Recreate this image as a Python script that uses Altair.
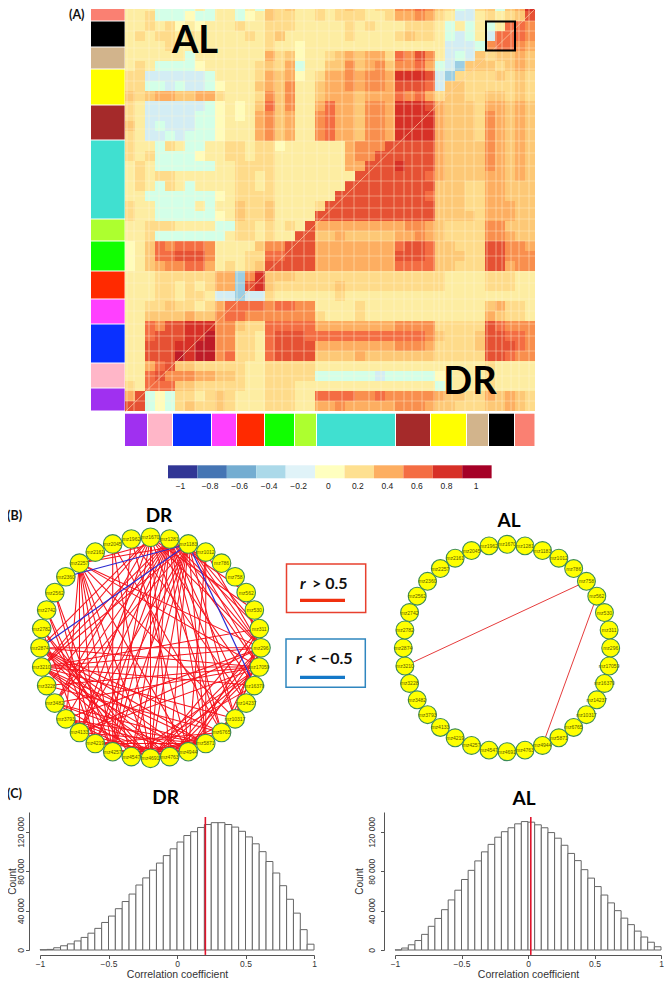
import math
import altair as alt
import pandas as pd

# ---------- (A) correlation matrix: one character per 10-unit cell
LEVELS = {'a': -0.6, 'b': -0.45, 'c': -0.25, 'd': -0.1, '0': 0.02, '1': 0.12, '2': 0.22, '3': 0.3,
          '4': 0.4, '5': 0.5, '6': 0.6, '7': 0.7, '8': 0.8, '9': 0.9}
MATRIX = [
    "11 1dd dd1d 11 d1d 323 11 21232122 5565 32d c2 3d3 48",
    "11 2dd d0dd 11 d01 322 11 21222112 4454 21c c1 212 37",
    "11 212 0101 11 211 222 11 11121211 1222 1d1 d1 d16 65",
    "12 122 1211 11 121 231 11 11121111 2322 1dc d1 c66 65",
    "11 112 1111 11 111 211 01 11111111 1111 1cc cd 566 54",
    "11 111 1d11 11 111 423 01 12343442 6575 1cd c3 233 43",
    "12 1dd dd01 11 112 324 d1 13353453 5564 dcb 33 323 43",
    "22 ccc cccd 11 112 434 01 24454554 8887 cb2 22 232 32",
    "22 ddc dccd 01 113 435 11 34454554 7776 c33 22 222 32",
    "32 344 3344 21 112 535 11 34443444 6564 233 22 332 32",
    "21 ccc cccd 01 013 635 11 46443554 8887 433 32 443 43",
    "21 ccc ccdd 01 014 534 11 56443554 8888 433 32 543 43",
    "31 cdc ccdd 01 114 534 11 56443554 8888 433 32 543 43",
    "21 ccd cddd 01 114 534 11 56443554 8888 433 32 543 43",
    "21 1d2 1dd1 12 212 201 11 11145557 7777 433 33 543 43",
    "21 2dd dd01 12 212 211 11 11145577 7777 433 33 543 43",
    "12 1dd dddd 11 222 211 11 11144777 8777 433 33 543 43",
    "12 122 1111 11 221 211 11 11117777 7776 433 33 443 43",
    "12 1d2 1d11 11 221 211 11 11177777 7777 333 22 443 33",
    "11 ddd dddd 01 222 211 11 11777777 7776 333 22 443 33",
    "21 1dd dd1d 11 322 311 11 27777777 7777 333 22 444 33",
    "21 1dd dddd 01 322 311 11 77777777 7777 333 32 444 33",
    "11 222 1111 dd 221 212 17 44444444 4554 322 22 553 33",
    "11 2dd dddd d1 221 211 77 33433333 4454 322 22 554 33",
    "01 365 6665 11 113 557 77 44444444 6776 332 22 775 54",
    "01 366 7775 11 122 667 77 44444444 7776 333 22 775 55",
    "01 345 5664 12 123 777 77 44444444 6666 332 22 774 55",
    "11 122 2222 44 b58 333 22 22222222 2222 211 11 222 11",
    "11 122 1212 44 b78 322 22 22322222 2222 211 11 222 11",
    "11 122 1221 cc bcc 211 11 11211111 1111 111 11 111 11",
    "11 223 2212 46 666 566 55 11112111 1111 111 11 342 21",
    "11 333 3433 56 655 555 55 21112111 1111 111 11 432 21",
    "11 657 7888 55 322 666 66 44444444 5555 222 22 765 55",
    "11 677 7889 55 221 677 76 66666666 6665 322 23 776 65",
    "11 777 8899 55 221 677 77 44444444 5554 222 23 777 65",
    "11 777 9899 56 221 677 77 33334333 3333 222 22 776 55",
    "11 467 3322 22 211 222 22 11111111 1111 111 11 211 11",
    "11 675 5544 33 211 222 22 ddddddcd dddd 011 11 211 11",
    "21 666 3322 22 211 222 11 11111111 1111 d11 11 211 11",
    "47 d0d 2212 32 111 222 11 66665565 5555 433 22 434 32",
    "77 d0d 2322 32 111 222 11 44544444 5554 332 22 334 32",
]
# low-correlation metabolites: pale lines that cross the matrix
PALE_COLUMNS = [128, 135, 150, 160, 173, 185, 196, 205, 217, 225, 238, 250, 265, 275, 283, 293, 305, 318,
                330, 343, 355, 370, 382, 395, 405, 413, 423, 435, 440, 445, 453, 466, 475, 488, 497, 503,
                512, 520, 530]
PALE_ROWS = [20, 30, 47, 58, 68, 80, 92, 103, 115, 128, 140, 152, 165, 180, 195, 207, 218, 230, 240, 255,
             271, 282, 298, 310, 323, 335, 350, 362, 375, 388, 400]
MODULES = ["purple", "pink", "blue", "magenta", "red", "green", "greenyellow", "turquoise",
           "brown", "yellow", "tan", "black", "salmon"]
MODULE_SIZE = [23, 25, 39, 25, 28, 30, 22, 79, 35, 36, 22, 26, 20.5]
MODULE_HEX = ["#a030f0", "#ffb6c8", "#0a30ff", "#ff40ff", "#ff2a00", "#10ff00", "#adff2f", "#40e0d0",
              "#a52a2a", "#ffff00", "#d2b48c", "#000000", "#fa8072"]
BAR_VALUES = [-1, -0.8, -0.6, -0.4, -0.2, 0, 0.2, 0.4, 0.6, 0.8, 1]
BAR_HEX = ["#313695", "#4575b4", "#74add1", "#abd9e9", "#e0f3f8", "#ffffbf", "#fee090", "#fdae61",
           "#f46d43", "#d73027", "#a50026"]
BAR_LABELS = ["−1", "−0.8", "−0.6", "−0.4", "−0.2", "0", "0.2", "0.4", "0.6", "0.8", "1"]

# ---------- (B) networks
NODES = ["mz1670", "mz1281", "mz1183", "mz1012", "mz786", "mz758", "mz562", "mz530", "mz311", "mz296",
         "mz17059", "mz16370", "mz14237", "mz10317", "mz6765", "mz5871", "mz4944", "mz4763", "mz4691",
         "mz4547", "mz4257", "mz4219", "mz4133", "mz3793", "mz3482", "mz3228", "mz3210", "mz2874",
         "mz2782", "mz2742", "mz2562", "mz2360", "mz2257", "mz2161", "mz2045", "mz1962"]
DR_POS = {
    0: [7, 9, 11, 14, 17, 18, 20, 22, 24, 26, 27],
    1: [6, 8, 9, 10, 12, 13, 14, 15, 16, 18, 19, 20, 21, 22, 23, 24, 25, 26],
    2: [8, 9, 10, 13, 15, 17, 18, 19, 20, 21, 22, 24, 26],
    3: [9, 15, 16],
    32: [1, 2, 9, 10, 13, 16, 18, 19, 20, 21, 22, 23],
    34: [14, 18, 20],
    35: [12, 16, 20],
    30: [20, 21],
    29: [20, 21],
    28: [18, 19, 22],
    27: [9, 10, 14, 15, 16, 17, 18],
    26: [8, 9, 10, 11, 13, 15, 16, 17, 18],
    25: [10, 14],
    24: [10, 15, 16, 18],
    23: [9, 15, 16, 17, 18],
    22: [9, 10, 15, 17],
    21: [14, 15, 16],
    20: [15, 16],
    19: [10, 11, 14],
    18: [8, 9, 10, 13],
    17: [9, 10],
    16: [8, 9],
    14: [9, 10],
    13: [8, 9],
    6: [10],
}
DR_NEG = [(31, 2), (27, 2), (2, 11)]
AL_POS = [(33, 0), (5, 26), (6, 16)]

# ---------- (C) histograms, 40 bins of width 0.05 from -1 to 1
DR_COUNTS = [300, 600, 2300, 4300, 6200, 9200, 12800, 17100, 22000, 28000, 34500, 42000, 49300, 56900,
             66100, 73300, 81200, 88400, 96000, 102900, 109800, 116400, 120300, 124600, 127600, 129500,
             129500, 127600, 125000, 120700, 115000, 108000, 100000, 90000, 78300, 65400, 51600, 37500,
             20700, 5900]
AL_COUNTS = [100, 2000, 5300, 9600, 15900, 24100, 32100, 41000, 50900, 60800, 71700, 81000, 90600, 99800,
             107400, 114700, 120300, 124300, 128300, 130600, 130000, 127300, 124300, 119400, 113700,
             106500, 98200, 90900, 81700, 73100, 64500, 55900, 47900, 40000, 32400, 25800, 19200, 13200,
             7900, 3300]
DR_MEAN = 0.207
AL_MEAN = 0.021

SANS = "Liberation Sans"
HEAD = "Lato"

sx = alt.Scale(domain=[8, 664], clamp=True, nice=False, zero=False)
sy = alt.Scale(domain=[8, 811], clamp=True, nice=False, zero=False, reverse=True)
heat_scale = alt.Scale(domain=BAR_VALUES, range=BAR_HEX, clamp=True)


def X(f):
    return alt.X(f"{f}:Q", scale=sx, axis=None, title=None)


def Y(f):
    return alt.Y(f"{f}:Q", scale=sy, axis=None, title=None)


def label(rows, **mark):
    df = pd.DataFrame(rows, columns=["t", "x", "y"])
    return alt.Chart(df).mark_text(baseline="middle", **mark).encode(x=X("x"), y=Y("y"), text="t:N")


# ---- heat map cells
MAT_X, MAT_Y, CELL = 126, 0, 10
MAT_END_X, MAT_END_Y = 536, 411
cells = []
for i, row in enumerate(MATRIX):
    for j, ch in enumerate(row.replace(" ", "")):
        cells.append({"x": MAT_X + j * CELL, "x2": MAT_X + (j + 1) * CELL,
                      "y": MAT_Y + i * CELL, "y2": MAT_Y + (i + 1) * CELL, "r": LEVELS[ch]})
heat = alt.Chart(pd.DataFrame(cells)).mark_rect(strokeWidth=0).encode(
    x=X("x"), x2="x2:Q", y=Y("y"), y2="y2:Q",
    color=alt.Color("r:Q", scale=heat_scale, legend=None))

pale_df = pd.DataFrame(
    [{"x": c, "x2": c, "y": MAT_Y, "y2": MAT_END_Y} for c in PALE_COLUMNS] +
    [{"x": MAT_X, "x2": MAT_END_X, "y": r, "y2": r} for r in PALE_ROWS])
pale = alt.Chart(pale_df).mark_rule(color="#fff8d8", strokeWidth=1.2, opacity=0.4).encode(
    x=X("x"), x2="x2:Q", y=Y("y"), y2="y2:Q")
diagonal = alt.Chart(pd.DataFrame([{"x": MAT_X, "y": MAT_END_Y, "x2": MAT_END_X, "y2": MAT_Y}])).mark_rule(
    color="#fbd2a8", strokeWidth=1, opacity=0.7).encode(x=X("x"), x2="x2:Q", y=Y("y"), y2="y2:Q")

# ---- module strips
pos = MAT_X
bottom_rows = []
for m, s, c in zip(MODULES, MODULE_SIZE, MODULE_HEX):
    bottom_rows.append({"x": pos, "x2": pos + s - 1, "y": 412.7, "y2": 445, "c": c})
    pos += s
pos = MAT_Y
left_rows = []
for m, s, c in reversed(list(zip(MODULES, MODULE_SIZE, MODULE_HEX))):
    left_rows.append({"x": 92, "x2": 125.6, "y": pos, "y2": pos + s - 1, "c": c})
    pos += s
strips = alt.Chart(pd.DataFrame(bottom_rows + left_rows)).mark_rect(strokeWidth=0).encode(
    x=X("x"), x2="x2:Q", y=Y("y"), y2="y2:Q", color=alt.Color("c:N", scale=None, legend=None))

box = alt.Chart(pd.DataFrame([{"x": 487, "x2": 516, "y": 20.5, "y2": 49.5}])).mark_rect(
    fillOpacity=0, stroke="#000000", strokeWidth=2).encode(x=X("x"), x2="x2:Q", y=Y("y"), y2="y2:Q")

# ---- colour bar
bar_df = pd.DataFrame([{"x": 169 + k * 29.42, "x2": 169 + (k + 1) * 29.42, "y": 464.3, "y2": 477.3, "r": v}
                       for k, v in enumerate(BAR_VALUES)])
colorbar = alt.Chart(bar_df).mark_rect(strokeWidth=0).encode(
    x=X("x"), x2="x2:Q", y=Y("y"), y2="y2:Q", color=alt.Color("r:Q", scale=heat_scale, legend=None))
bar_labels = label([(t, 181.5 + k * 29.55, 484.5) for k, t in enumerate(BAR_LABELS)],
                   font=SANS, fontSize=8.5, color="#222222", align="center")


# ---- networks
def ring(cx, cy, rad):
    return [(cx + rad * math.sin(2 * math.pi * k / len(NODES)),
             cy - rad * math.cos(2 * math.pi * k / len(NODES))) for k in range(len(NODES))]


def edges(pairs, pts, color, width):
    df = pd.DataFrame([{"x": pts[a][0], "y": pts[a][1], "x2": pts[b][0], "y2": pts[b][1]} for a, b in pairs])
    return alt.Chart(df).mark_rule(color=color, strokeWidth=width).encode(
        x=X("x"), y=Y("y"), x2="x2:Q", y2="y2:Q")


def nodes(pts, size):
    df = pd.DataFrame([{"x": p[0], "y": p[1], "t": n} for p, n in zip(pts, NODES)])
    dots = alt.Chart(df).mark_circle(fill="#ffff00", stroke="#3c8c58", strokeWidth=1.1, opacity=1,
                                     size=size).encode(x=X("x"), y=Y("y"))
    names = alt.Chart(df).mark_text(font=SANS, fontSize=5, color="#5a5a00", baseline="middle").encode(
        x=X("x"), y=Y("y"), text="t:N")
    return [dots, names]


dr_pts = ring(151.5, 646.8, 110.5)
al_pts = ring(508, 647, 103.7)
dr_pairs = [(a, b) for a, bs in DR_POS.items() for b in bs]
net_layers = [edges(dr_pairs, dr_pts, "#f5141e", 1.05), edges(DR_NEG, dr_pts, "#2a2ad0", 1.2)] + nodes(dr_pts, 346) + [
    edges(AL_POS, al_pts, "#e63c3c", 1.0)] + nodes(al_pts, 320)


# ---- legend boxes
def frame(x, x2, y, y2, color):
    return alt.Chart(pd.DataFrame([{"x": x, "x2": x2, "y": y, "y2": y2}])).mark_rect(
        fillOpacity=0, stroke=color, strokeWidth=1.5).encode(x=X("x"), x2="x2:Q", y=Y("y"), y2="y2:Q")


def dash(x, x2, y, color):
    return alt.Chart(pd.DataFrame([{"x": x, "x2": x2, "y": y}])).mark_rule(color=color, strokeWidth=3.2).encode(
        x=X("x"), x2="x2:Q", y=Y("y"))


legend = [
    frame(287.5, 366.7, 563, 611.5, "#e8402e"), dash(301, 346, 599.3, "#f0300f"),
    frame(287, 366.3, 638, 686.3, "#2f86bf"), dash(301, 346, 676.3, "#1478c8"),
    label([("r", 301, 582.5)], font=HEAD, fontSize=16, fontWeight="bold", fontStyle="italic", align="left", color="#111111"),
    label([("> 0.5", 348.5, 582.5)], font=HEAD, fontSize=16, fontWeight="bold", align="right", color="#111111"),
    label([("r", 297, 658)], font=HEAD, fontSize=16, fontWeight="bold", fontStyle="italic", align="left", color="#111111"),
    label([("< −0.5", 353.5, 658)], font=HEAD, fontSize=16, fontWeight="bold", align="right", color="#111111"),
]

titles = [
    label([("AL", 196, 40.5), ("DR", 471, 382)], font=HEAD, fontSize=38, fontWeight="bold", align="center", color="#000000"),
    label([("DR", 160, 515), ("AL", 510, 520), ("DR", 166.7, 797), ("AL", 525, 798)],
          font=HEAD, fontSize=19, fontWeight="bold", align="center", color="#000000"),
    label([("(A)", 70, 14), ("(B)", 8, 515), ("(C)", 8, 792.5)], font=HEAD, fontSize=12.5, fontWeight="bold",
          align="left", color="#111111"),
]

canvas = alt.layer(heat, pale, diagonal, strips, box, colorbar, bar_labels, *net_layers, *legend, *titles).properties(
    width=656, height=803)


# ---- histograms
def histogram(counts, mean, count_pad, label_pad, width):
    df = pd.DataFrame({"lo": [-1 + k * 0.05 for k in range(40)],
                       "hi": [-1 + (k + 1) * 0.05 for k in range(40)],
                       "n": counts, "base": [0] * 40})
    xs = alt.Scale(domain=[-1, 1], nice=False, zero=False)
    ys = alt.Scale(domain=[0, 140339], nice=False)
    x_axis = alt.Axis(values=[-1, -0.75, -0.5, -0.25, 0, 0.25, 0.5, 0.75, 1], offset=5, grid=False,
                      title="Correlation coefficient", titleFont=SANS, titleFontSize=10.5, titleFontWeight="normal",
                      titleColor="#333333", titlePadding=1, labelFont=SANS, labelFontSize=8.5, labelColor="#333333",
                      labelPadding=1, tickSize=3.5, tickColor="#555555", domainColor="#555555", labelOverlap=False,
                      labelFlush=False,
                      labelExpr="(datum.value<0?'−':'')+format(abs(datum.value),'~g')")
    y_axis = alt.Axis(values=[0, 20000, 40000, 60000, 80000, 100000, 120000], offset=11, grid=False,
                      title="Count", titleFont=SANS, titleFontSize=10, titleFontWeight="normal",
                      titleColor="#333333", titlePadding=count_pad, labelFont=SANS, labelFontSize=8.5,
                      labelColor="#333333", labelAngle=-90, labelAlign="center", labelBaseline="bottom",
                      labelPadding=label_pad, tickSize=3.5, tickColor="#555555", domainColor="#555555", labelOverlap=False,
                      labelExpr="datum.value%40000!=0?'':(datum.value==0?'0':(datum.value/1000)+' 000')")
    bars = alt.Chart(df).mark_rect(fill="#ffffff", stroke="#666666", strokeWidth=1).encode(
        x=alt.X("lo:Q", scale=xs, axis=x_axis), x2="hi:Q",
        y=alt.Y("n:Q", scale=ys, axis=y_axis), y2="base:Q")
    line = alt.Chart(pd.DataFrame({"m": [mean], "top": [135254], "low": [-5000]})).mark_rule(
        color="#e0142c", strokeWidth=1.6).encode(
        x=alt.X("m:Q", scale=xs), y=alt.Y("top:Q", scale=ys), y2="low:Q")
    return alt.layer(bars, line).properties(width=width, height=138)


def spacer(w):
    return alt.Chart(pd.DataFrame({"v": [0]})).mark_point(opacity=0).encode(
        x=alt.X("v:Q", axis=None), y=alt.Y("v:Q", axis=None)).properties(width=w, height=138)


row_c = alt.hconcat(spacer(33), histogram(DR_COUNTS, DR_MEAN, -1, 0, 274), spacer(81),
                    histogram(AL_COUNTS, AL_MEAN, 3, 4, 266), spacing=0, bounds="flush")
chart = alt.vconcat(canvas, row_c, spacing=0, bounds="flush").properties(
    padding={"left": -1, "top": 0, "right": 0, "bottom": -2}).configure_view(
    stroke=None).resolve_scale(color="independent")

chart.save("out.html", embed_options={"renderer": "svg", "actions": False})
